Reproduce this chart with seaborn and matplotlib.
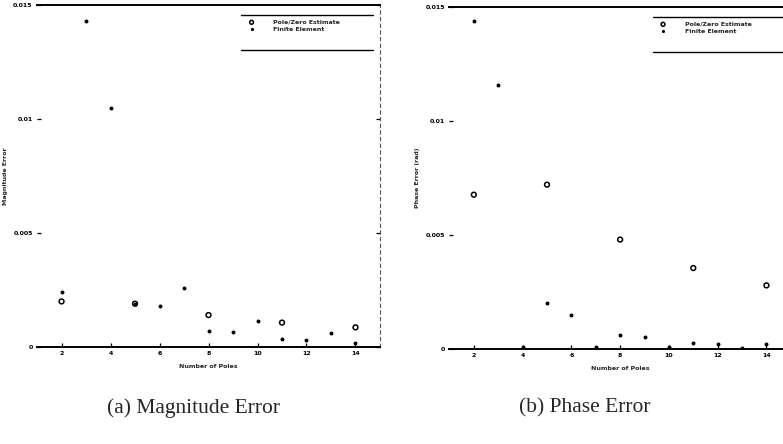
import numpy as np
import pandas as pd
import matplotlib
matplotlib.use("Agg")
import matplotlib.pyplot as plt
import seaborn as sns

# ---- data ----
poles_fe = [2, 3, 4, 5, 6, 7, 8, 9, 10, 11, 12, 13, 14]
poles_pz = [2, 5, 8, 11, 14]

mag_fe = [0.0024, 0.0143, 0.0105, 0.0019, 0.0018, 0.0026, 0.0007, 0.00064,
          0.00114, 0.00034, 0.0003, 0.0006, 0.00019]
mag_pz = [0.0020, 0.0019, 0.0014, 0.00107, 0.00086]

phase_fe = [0.0144, 0.0116, 0.0001, 0.0020, 0.0015, 0.0001, 0.00063, 0.00054,
            0.0001, 0.00028, 0.00022, 0.00005, 0.0002]
phase_pz = [0.00677, 0.00721, 0.0048, 0.00355, 0.00279]

yticks = [0, 0.005, 0.01, 0.015]
ytick_labels = ["0", "0.005", "0.01", "0.015"]
xticks = [2, 4, 6, 8, 10, 12, 14]
series_names = ["Pole/Zero Estimate", "Finite Element"]

sns.set_theme(style="white")
plt.rcParams['font.family'] = ['DejaVu Sans']

fig = plt.figure(figsize=(7.83, 4.44), dpi=100)
ax1 = fig.add_axes([0.0473, 0.2185, 0.438, 0.770])
ax2 = fig.add_axes([0.574, 0.214, 0.436, 0.770])


def panel(ax, fe, pz, ylabel):
    df_pz = pd.DataFrame({"x": poles_pz, "y": pz})
    df_fe = pd.DataFrame({"x": poles_fe, "y": fe})
    sns.scatterplot(data=df_pz, x="x", y="y", ax=ax, marker="o", s=12,
                    facecolor="none", edgecolor="black", linewidth=1.1,
                    label=series_names[0])
    sns.scatterplot(data=df_fe, x="x", y="y", ax=ax, marker="o", s=8,
                    color="black", edgecolor="black", linewidth=0,
                    label=series_names[1])
    ax.set_xlim(1, 15)
    ax.set_ylim(0, 0.015)
    ax.set_xticks(xticks)
    ax.set_xticklabels([str(t) for t in xticks], fontsize=4.5, weight="bold")
    ax.set_yticks(yticks)
    ax.set_yticklabels(ytick_labels, fontsize=4.5, weight="bold")
    ax.tick_params(axis="both", direction="in", length=3, width=0.9,
                   colors="black", pad=3, left=True, bottom=True, right=True)
    ax.set_xlabel("Number of Poles", fontsize=4.5, labelpad=6, weight="bold")
    ax.set_ylabel(ylabel, fontsize=4.5, labelpad=4, weight="bold")
    for side in ["top", "bottom"]:
        ax.spines[side].set_visible(True)
        ax.spines[side].set_color("black")
        ax.spines[side].set_linewidth(1.4)
    ax.spines["left"].set_visible(False)
    ax.spines["right"].set_color("#555555")
    ax.spines["right"].set_linestyle((0, (3, 3)))
    ax.spines["right"].set_linewidth(0.8)
    ax.legend(loc="upper left", bbox_to_anchor=(0.6, 0.965),
              frameon=False, prop={"size": 4.5, "weight": "bold"},
              handletextpad=2.5, borderaxespad=0, labelspacing=0.2,
              markerscale=0.8)
    # legend rules (top and bottom)
    ax.plot([0.595, 0.98], [0.971, 0.971], transform=ax.transAxes,
            color="black", lw=1.0, clip_on=False)
    ax.plot([0.595, 0.98], [0.868, 0.868], transform=ax.transAxes,
            color="black", lw=1.0, clip_on=False)


panel(ax1, mag_fe, mag_pz, "Magnitude Error")
panel(ax2, phase_fe, phase_pz, "Phase Error (rad)")

fig.text(0.247, 0.081, "(a) Magnitude Error", ha="center", va="center",
         fontsize=15.5, family="Liberation Serif")
fig.text(0.747, 0.081, "(b) Phase Error", ha="center", va="center",
         fontsize=15.5, family="Liberation Serif")

fig.savefig("out.png", dpi=100)
